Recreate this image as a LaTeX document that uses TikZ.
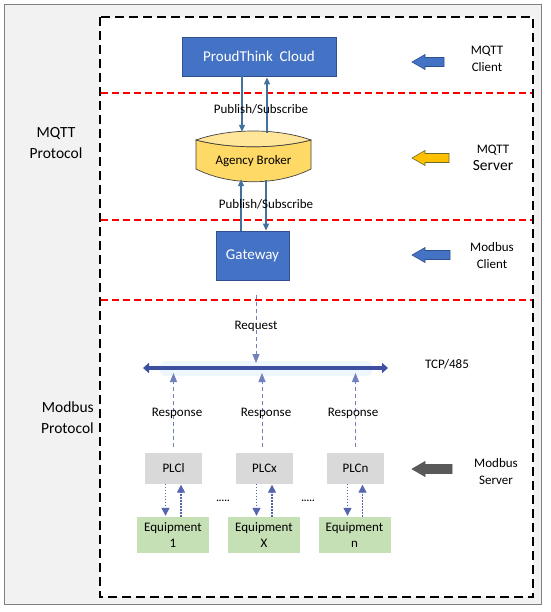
\documentclass[tikz,border=0pt]{standalone}
\usepackage{fontspec}
\setmainfont{Carlito}
\usetikzlibrary{arrows.meta}
\definecolor{bggray}{HTML}{F2F2F2}
\definecolor{framegray}{HTML}{808080}
\definecolor{boxblue}{HTML}{4472C4}
\definecolor{boxblueedge}{HTML}{2F528F}
\definecolor{psblue}{HTML}{41719C}
\definecolor{busblue}{HTML}{3F4F9F}
\definecolor{glowblue}{HTML}{EEF7FD}
\definecolor{respblue}{HTML}{7080BC}
\definecolor{dotblue}{HTML}{5565AE}
\definecolor{plcgray}{HTML}{D9D9D9}
\definecolor{eqgreen}{HTML}{C5E0B4}
\definecolor{brokerfill}{HTML}{FFD966}
\definecolor{brokerlens}{HTML}{FFE699}
\definecolor{arrowyellow}{HTML}{FFC000}
\definecolor{arrowyedge}{HTML}{6B6B2A}
\definecolor{arrowgray}{HTML}{595959}
\newcommand{\blkarrow}[5]{% fill, draw, tip x, tail x, y
  \draw[fill=#1,draw=#2,line width=0.6pt] (#3,#5) -- (#3+13,#5-7.5) -- (#3+13,#5-4.5) -- (#4,#5-4.5) -- (#4,#5+4.5) -- (#3+13,#5+4.5) -- (#3+13,#5+7.5) -- cycle;}
\begin{document}
\begin{tikzpicture}[x=1pt,y=-1pt,
  bluebox/.style={draw=boxblueedge,fill=boxblue,line width=0.8pt,text=white,font=\fontsize{15}{18}\selectfont,inner sep=0pt},
  plcbox/.style={fill=plcgray,minimum width=57,minimum height=31,font=\fontsize{13}{15}\selectfont,inner sep=0pt},
  eqbox/.style={fill=eqgreen,minimum width=72,minimum height=36,font=\fontsize{13}{15.5}\selectfont,inner sep=0pt,align=center},
  txt/.style={font=\fontsize{13}{15}\selectfont,inner sep=0pt},
  sidetxt/.style={font=\fontsize{15.5}{21}\selectfont,inner sep=0pt,align=center},
  righttxt/.style={font=\fontsize{13}{17}\selectfont,inner sep=0pt,align=center},
  psarrow/.style={draw=psblue,line width=1.1pt,-{Triangle[length=7pt,width=6pt]}},
  resparrow/.style={draw=respblue,line width=1pt,dash pattern=on 4pt off 3pt,-{Triangle[length=9pt,width=7pt]}},
  dotarrow/.style={draw=dotblue,line width=1.4pt,dash pattern=on 1.5pt off 1.5pt,-{Triangle[length=8pt,width=8pt]}},
  reddash/.style={draw=red,line width=1.4pt,dash pattern=on 7pt off 4pt}
]
\useasboundingbox (0,0) rectangle (550,612);
\fill[white] (0,0) rectangle (550,612);
\draw[fill=bggray,draw=framegray,line width=1pt] (4,5) rectangle (541,604);
\draw[fill=white,line width=1.5pt,dash pattern=on 9pt off 5pt] (100,17) rectangle (533,597);

% red separators
\draw[reddash] (101,93) -- (532,93);
\draw[reddash] (101,220) -- (532,220);
\draw[reddash] (101,300) -- (532,300);

% column coordinates
\coordinate (cA) at (242,0);
\coordinate (cB) at (267,0);
\coordinate (cC) at (241,0);
\coordinate (cD) at (266,0);
\coordinate (cR) at (256,0);

% nodes
\node[bluebox,minimum width=154,minimum height=39] (cloud) at (259,56.5) {ProudThink\ \ Cloud};
\node[minimum width=115,minimum height=52,inner sep=0pt] (broker) at (253.5,156) {};
\draw[fill=brokerfill,draw=black!75,line width=0.7pt]
  (196,140) .. controls (230,149) and (277,149) .. (311,140) -- (311,169)
  .. controls (277,186) and (230,186) .. (196,169) -- cycle;
\draw[fill=brokerlens,draw=black!75,line width=0.7pt]
  (196,140) .. controls (230,128) and (277,128) .. (311,140)
  .. controls (277,149) and (230,149) .. (196,140) -- cycle;
\node[txt] (brokertxt) at (253.5,161) {Agency Broker};
\node[bluebox,minimum width=73,minimum height=49] (gw) at (252.5,255.5) {Gateway};

% pub/sub arrows
\draw[psarrow] (cloud.south -| cA) -- ([yshift=-2pt]broker.north -| cA);
\draw[psarrow] ([yshift=-3pt]broker.north -| cB) -- ([yshift=-1pt]cloud.south -| cB);
\node[txt] (ps1) at (261,109) {Publish/Subscribe};
\draw[psarrow] (gw.north -| cC) -- ([yshift=3pt]broker.south -| cC);
\draw[psarrow] ([yshift=2pt]broker.south -| cD) -- (gw.north -| cD);
\node[txt] (ps2) at (266,204) {Publish/Subscribe};

% bus
\coordinate (busL) at (143,368);
\coordinate (busR) at (388,368);
\fill[glowblue,rounded corners=5pt] (160,361) rectangle (372,376);
\draw[busblue,line width=4pt,{Triangle[length=6pt,width=10pt]}-{Triangle[length=6pt,width=10pt]}] (busL) -- (busR);
\node[txt] (tcp) at (447,364) {TCP/485};

% request
\coordinate (reqend) at (256,363);
\draw[resparrow] ([yshift=-15pt]gw.south -| cR) -- (reqend);
\node[txt] (req) at (256,326) {Request};

% PLCs and equipment
\node[plcbox] (plc1) at (173.5,468) {PLCl};
\node[plcbox] (plcx) at (264.5,468) {PLCx};
\node[plcbox] (plcn) at (355.5,468) {PLCn};
\node[eqbox] (eq1) at (173,535) {Equipment\\1};
\node[eqbox] (eqx) at (264,535) {Equipment\\X};
\node[eqbox] (eqn) at (354.5,535) {Equipment\\n};

\coordinate (busbot) at (0,373);
\foreach \p/\dx in {plc1/0,plcx/-2.5,plcn/0}{
  \draw[resparrow] ([xshift=\dx pt,yshift=5pt]\p.north) -- ([xshift=\dx pt]\p.north |- busbot);
}
\node[txt] (r1) at (177,413) {Response};
\node[txt] (r2) at (266,413) {Response};
\node[txt] (r3) at (353,413) {Response};

\foreach \p/\e in {plc1/eq1,plcx/eqx,plcn/eqn}{
  \draw[dotarrow] ([xshift=-8pt]\p.south) -- ([xshift=-8pt,yshift=1pt]\p.south |- \e.north);
  \draw[dotarrow] ([xshift=8pt]\e.north) -- ([xshift=8pt,yshift=-1pt]\e.north |- \p.south);
}
\node[font=\fontsize{10}{12}\selectfont\bfseries,inner sep=0pt] (dots1) at (223,501) {.....};
\node[font=\fontsize{10}{12}\selectfont\bfseries,inner sep=0pt] (dots2) at (308,501) {.....};

% side labels
\node[sidetxt] (mqttp) at (56,143) {MQTT\\Protocol};
\node[sidetxt,align=right,anchor=east] (modp) at (94,418) {Modbus\\Protocol};

% right labels and block arrows
\node[righttxt] (mc) at (487,59) {MQTT\\Client};
\node[righttxt] (ms) at (493,158) {MQTT\\{\fontsize{15.5}{17}\selectfont Server}};
\node[righttxt] (mbc) at (492,256) {Modbus\\Client};
\node[righttxt] (mbs) at (496,472) {Modbus\\Server};
\blkarrow{boxblue}{boxblueedge}{412}{444}{62}
\blkarrow{arrowyellow}{arrowyedge}{412}{449}{158}
\blkarrow{boxblue}{boxblueedge}{412}{450}{255}
\blkarrow{arrowgray}{arrowgray}{412}{452}{469}
\end{tikzpicture}
\end{document}
